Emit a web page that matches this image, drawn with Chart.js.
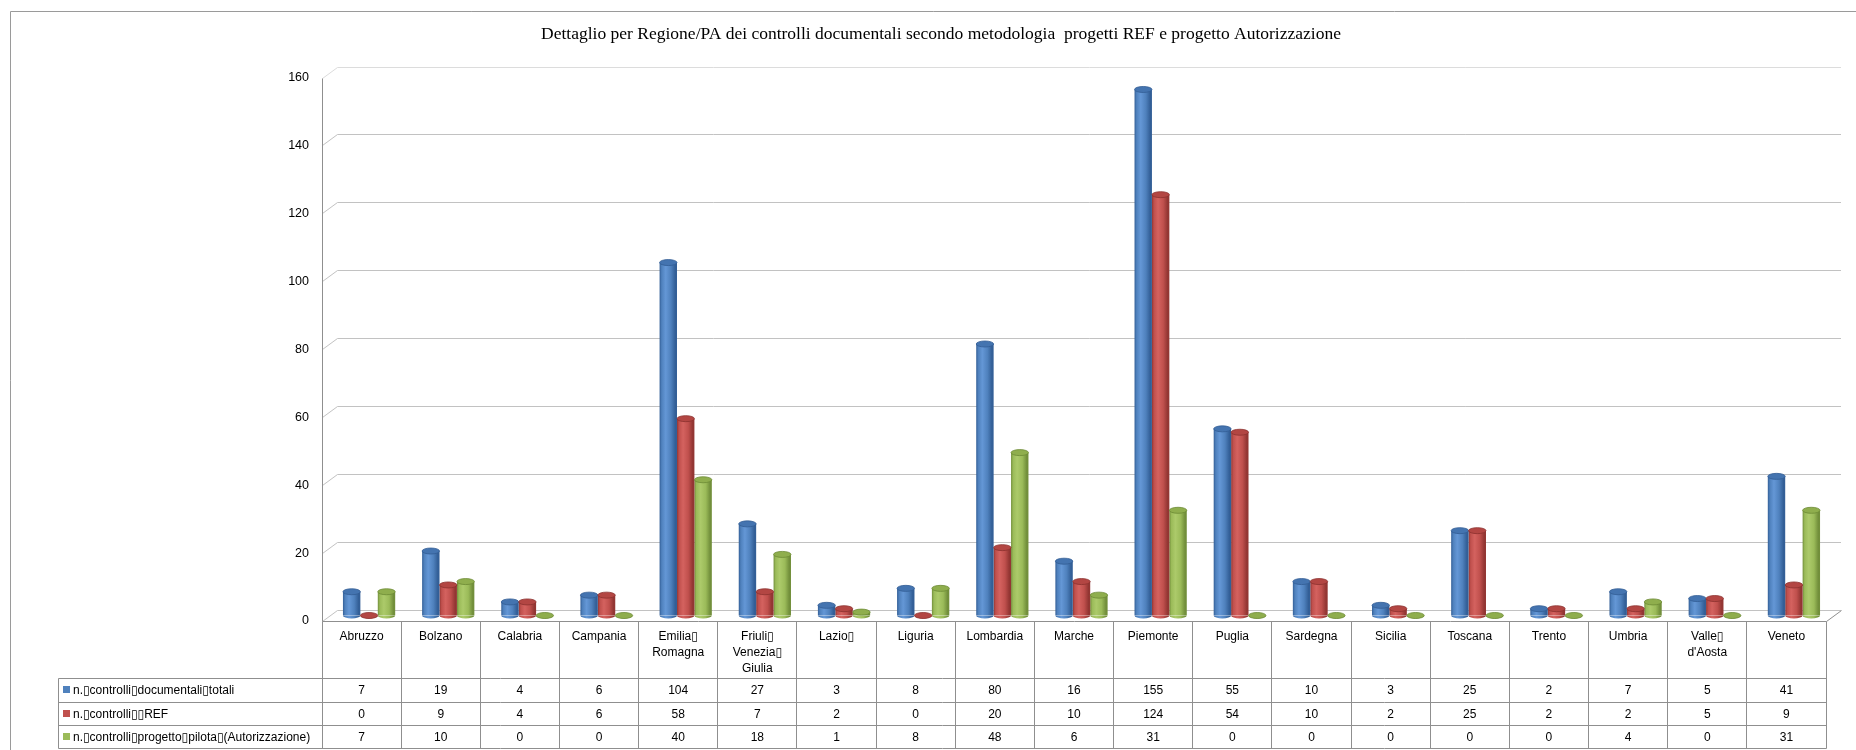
<!DOCTYPE html>
<html>
<head>
<meta charset="utf-8">
<title>Controlli documentali per Regione/PA</title>
<script src="https://cdn.jsdelivr.net/npm/chart.js@4.4.1/dist/chart.umd.min.js"></script>
<style>
  html, body { margin: 0; padding: 0; background: #ffffff; }
  #wrap { width: 1856px; height: 750px; position: relative; }
</style>
</head>
<body>
<div id="wrap"><canvas id="chart" width="1856" height="750"></canvas></div>
<script>
// ---- data ----
const chartTitle = 'Dettaglio per Regione/PA dei controlli documentali secondo metodologia  progetti REF e progetto Autorizzazione';

const regioni = [
  ['Abruzzo'], ['Bolzano'], ['Calabria'], ['Campania'], ['Emilia\u25AF', 'Romagna'],
  ['Friuli\u25AF', 'Venezia\u25AF', 'Giulia'], ['Lazio\u25AF'], ['Liguria'], ['Lombardia'],
  ['Marche'], ['Piemonte'], ['Puglia'], ['Sardegna'], ['Sicilia'], ['Toscana'],
  ['Trento'], ['Umbria'], ['Valle\u25AF', "d'Aosta"], ['Veneto']
];

const nomiSerie = [
  'n.\u25AFcontrolli\u25AFdocumentali\u25AFtotali',
  'n.\u25AFcontrolli\u25AF\u25AFREF',
  'n.\u25AFcontrolli\u25AFprogetto\u25AFpilota\u25AF(Autorizzazione)'
];

const controlliTotali = [7, 19, 4, 6, 104, 27, 3, 8, 80, 16, 155, 55, 10, 3, 25, 2, 7, 5, 41];
const controlliREF    = [0, 9, 4, 6, 58, 7, 2, 0, 20, 10, 124, 54, 10, 2, 25, 2, 2, 5, 9];
const controlliPilota = [7, 10, 0, 0, 40, 18, 1, 8, 48, 6, 31, 0, 0, 0, 0, 0, 4, 0, 31];

const yTicks = [0, 20, 40, 60, 80, 100, 120, 140, 160];

// ---- styling ----
const palette = [
  { base: '#4F81BD', dark: '#335f97', light: '#6497d6', cap: '#4474b0', capLine: '#325d94' },
  { base: '#C0504D', dark: '#933633', light: '#d4625f', cap: '#b34643', capLine: '#8c312e' },
  { base: '#9BBB59', dark: '#728f3b', light: '#acca6a', cap: '#8fae4d', capLine: '#6c8a35' }
];
const DX = 15, DY = 11;           // depth of the 3D box
const HX = DX / 2, HY = DY / 2;   // bars stand half way into the box
const BODY_FONT = '"Liberation Sans", "DejaVu Sans", sans-serif';
const LINE = '#8f8f8f';
const GRID = '#c2c2c2';
const crisp = v => Math.floor(v) + 0.5;

function cylinderFill(ctx, p, cx, halfW) {
  const g = ctx.createLinearGradient(cx - halfW, 0, cx + halfW, 0);
  g.addColorStop(0, p.dark);
  g.addColorStop(0.12, p.base);
  g.addColorStop(0.35, p.light);
  g.addColorStop(0.65, p.base);
  g.addColorStop(0.9, p.dark);
  g.addColorStop(1, p.dark);
  return g;
}

// background, title, 3D walls, gridlines, cylinders and data table
const boxPlugin = {
  id: 'box3d',
  beforeDraw(chart) {
    const { ctx, chartArea: a } = chart;
    const y = chart.scales.y;
    ctx.save();
    ctx.fillStyle = '#ffffff';
    ctx.fillRect(0, 0, chart.width, chart.height);

    // outer frame
    ctx.strokeStyle = '#9a9a9a';
    ctx.lineWidth = 1;
    ctx.beginPath();
    ctx.moveTo(10.5, chart.height);
    ctx.lineTo(10.5, 11.5);
    ctx.lineTo(chart.width, 11.5);
    ctx.stroke();

    // title
    ctx.fillStyle = '#000000';
    ctx.font = '17.5px "Liberation Serif", "DejaVu Serif", serif';
    ctx.textAlign = 'center';
    ctx.textBaseline = 'middle';
    ctx.fillText(chartTitle, 941, 34);

    const left = a.left - HX;
    const right = a.right + HX;

    // gridlines on the back wall with diagonal side-wall edges
    yTicks.forEach(v => {
      const ym = y.getPixelForValue(v);
      const yf = crisp(ym + HY), yb = crisp(ym - HY);
      ctx.strokeStyle = v === 160 ? '#dcdcdc' : GRID;
      ctx.beginPath();
      ctx.moveTo(crisp(left), yf);
      ctx.lineTo(crisp(left + DX), yb);
      ctx.lineTo(right, yb);
      ctx.stroke();
    });

    // floor: right-hand diagonal edge
    const y0f = crisp(y.getPixelForValue(0) + HY);
    const y0b = crisp(y.getPixelForValue(0) - HY);
    ctx.strokeStyle = LINE;
    ctx.beginPath();
    ctx.moveTo(crisp(a.right - HX), y0f);
    ctx.lineTo(crisp(a.right + HX), y0b);
    ctx.stroke();

    // front vertical axis
    ctx.beginPath();
    ctx.moveTo(crisp(left), crisp(y.getPixelForValue(160) + HY));
    ctx.lineTo(crisp(left), y0f);
    ctx.stroke();
    ctx.restore();
  },

  // cylinder shading for every bar
  beforeDatasetsDraw(chart) {
    const { ctx } = chart;
    chart.data.datasets.forEach((ds, di) => {
      const p = palette[di];
      chart.getDatasetMeta(di).data.forEach(el => {
        const g = cylinderFill(ctx, p, el.x, el.width / 2);
        el.options = Object.assign({}, el.options, { backgroundColor: g });
      });
    });
  },

  // elliptical caps and rounded bottoms
  afterDatasetsDraw(chart) {
    const { ctx } = chart;
    chart.data.datasets.forEach((ds, di) => {
      const p = palette[di];
      chart.getDatasetMeta(di).data.forEach(el => {
        const rx = el.width / 2, ry = 3;
        ctx.save();
        ctx.fillStyle = cylinderFill(ctx, p, el.x, rx);
        ctx.beginPath();
        ctx.ellipse(el.x, el.base, rx, ry, 0, 0, Math.PI);
        ctx.fill();
        ctx.fillStyle = p.cap;
        ctx.strokeStyle = p.capLine;
        ctx.lineWidth = 0.8;
        ctx.beginPath();
        ctx.ellipse(el.x, el.y, rx, ry, 0, 0, Math.PI * 2);
        ctx.fill();
        ctx.stroke();
        ctx.restore();
      });
    });
  },

  // data table under the plot
  afterDraw(chart) {
    const { ctx, chartArea: a } = chart;
    const x = chart.scales.x, y = chart.scales.y;
    const n = regioni.length;
    const cw = (a.right - a.left) / n;
    const top = crisp(y.getPixelForValue(0) + HY);
    const rows = [678.5, 702.5, 725.5, 748.5];
    const legendLeft = 58.5;
    const tRight = crisp(a.right - HX);
    const series = [controlliTotali, controlliREF, controlliPilota];

    ctx.save();
    ctx.strokeStyle = LINE;
    ctx.lineWidth = 1;
    ctx.beginPath();
    ctx.moveTo(crisp(a.left - HX), top); ctx.lineTo(tRight, top);
    rows.forEach(r => { ctx.moveTo(legendLeft, r); ctx.lineTo(tRight, r); });
    ctx.moveTo(legendLeft, rows[0]); ctx.lineTo(legendLeft, rows[3]);
    for (let i = 0; i <= n; i++) {
      const bx = crisp(x.getPixelForValue(0) - HX - cw / 2 + i * cw);
      ctx.moveTo(bx, top);
      ctx.lineTo(bx, rows[3]);
    }
    ctx.stroke();

    ctx.fillStyle = '#000000';
    ctx.font = '12px ' + BODY_FONT;
    ctx.textAlign = 'center';
    ctx.textBaseline = 'middle';
    regioni.forEach((lines, i) => {
      const cx = x.getPixelForValue(i) - HX;
      lines.forEach((t, k) => ctx.fillText(t, cx, 637 + k * 16));
      series.forEach((s, r) => {
        ctx.fillText(String(s[i]), cx, (rows[r] + rows[r + 1]) / 2 + 0.5);
      });
    });

    // legend keys inside the table
    ctx.textAlign = 'left';
    nomiSerie.forEach((name, r) => {
      const cy = (rows[r] + rows[r + 1]) / 2;
      ctx.fillStyle = palette[r].base;
      ctx.fillRect(63, Math.round(cy - 4.5), 7, 7);
      ctx.fillStyle = '#000000';
      ctx.fillText(name, 73, cy + 0.5);
    });
    ctx.restore();
  }
};

const ctx = document.getElementById('chart').getContext('2d');
new Chart(ctx, {
  type: 'bar',
  data: {
    labels: regioni,
    datasets: [
      { label: nomiSerie[0], data: controlliTotali, backgroundColor: palette[0].base },
      { label: nomiSerie[1], data: controlliREF, backgroundColor: palette[1].base },
      { label: nomiSerie[2], data: controlliPilota, backgroundColor: palette[2].base }
    ]
  },
  options: {
    responsive: false,
    animation: false,
    events: [],
    layout: { padding: { left: 0, top: 72.5, right: 22.5, bottom: 134.5 } },
    datasets: {
      bar: { categoryPercentage: 0.66, barPercentage: 1.0, borderWidth: 0 }
    },
    plugins: {
      legend: { display: false },
      title: { display: false },
      tooltip: { enabled: false }
    },
    scales: {
      x: { display: false, offset: true },
      y: {
        min: 0,
        max: 160,
        afterBuildTicks(scale) { scale.ticks = yTicks.map(v => ({ value: v })); },
        afterFit(scale) { scale.width = 329.5; },
        grid: { display: false, drawTicks: false },
        border: { display: false },
        ticks: {
          padding: 20.5,
          labelOffset: HY,
          color: '#000000',
          font: { family: BODY_FONT, size: 12.5 }
        }
      }
    }
  },
  plugins: [boxPlugin]
});
</script>
</body>
</html>
